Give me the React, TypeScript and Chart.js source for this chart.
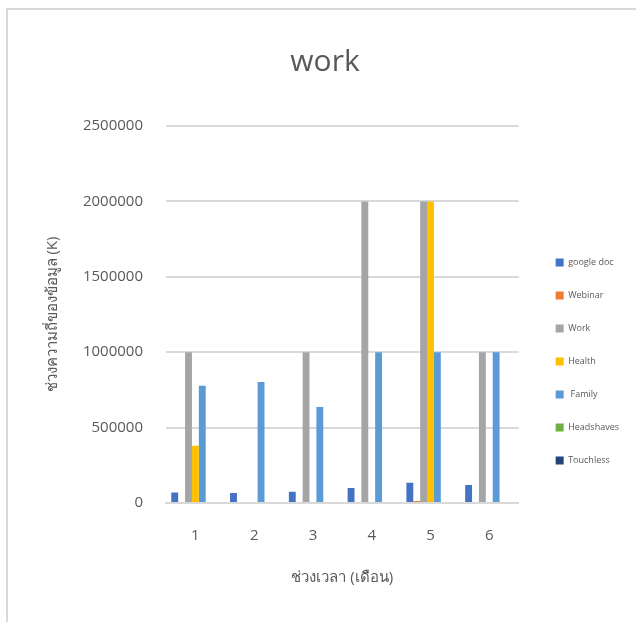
import React, { useEffect, useRef } from "react";
import { Chart, registerables } from "chart.js";

Chart.register(...registerables);

const categories = ["1", "2", "3", "4", "5", "6"];
const googleDoc = [70000, 66000, 75000, 100000, 134000, 120000];
const webinar = [0, 0, 0, 6000, 13000, 0];
const work = [1000000, 0, 1000000, 2000000, 2000000, 1000000];
const health = [380000, 0, 0, 0, 2000000, 0];
const family = [778000, 802000, 637000, 1000000, 1000000, 1000000];
const headshaves = [0, 0, 0, 0, 0, 0];
const touchless = [0, 0, 0, 0, 0, 0];

const seriesNames = ["google doc", "Webinar", "Work", "Health", " Family", "Headshaves", "Touchless"];
const seriesColors = ["#4472C4", "#ED7D31", "#A5A5A5", "#FFC000", "#5B9BD5", "#70AD47", "#264478"];
const seriesData = [googleDoc, webinar, work, health, family, headshaves, touchless];

const chartTitle = "work";
const yTitle = "ช่วงความถี่ของข้อมูล (K)";
const xTitle = "ช่วงเวลา (เดือน)";

const FONT = "'Open Sans', 'Noto Sans', sans-serif";

const LEGEND_DX = 13;
const LEGEND_DY = 61;
const TITLE_DX = 9;

const boxShift = {
  id: "boxShift",
  afterLayout(chart: any) {
    const lg = chart.legend;
    if (lg) {
      lg.left += LEGEND_DX;
      lg.right += LEGEND_DX;
      lg.top += LEGEND_DY;
      lg.bottom += LEGEND_DY;
    }
    const t = chart.titleBlock;
    if (t) {
      t.left += TITLE_DX;
      t.right += TITLE_DX;
    }
  },
};

export default function App() {
  const ref = useRef<HTMLCanvasElement | null>(null);
  useEffect(() => {
    document.body.style.margin = "0";
    const ctx = ref.current!;
    const chart = new Chart(ctx, {
      type: "bar",
      data: {
        labels: categories,
        datasets: seriesData.map((d, i) => ({
          label: seriesNames[i],
          data: d,
          backgroundColor: seriesColors[i],
          borderWidth: 0,
          categoryPercentage: 0.82,
          barPercentage: 1,
        })),
      },
      plugins: [boxShift],
      options: {
        responsive: false,
        animation: false,
        devicePixelRatio: 1,
        layout: { padding: { left: 8, right: 26, bottom: 31, top: 0 } },
        plugins: {
          title: {
            display: true,
            text: chartTitle,
            color: "#595959",
            font: { family: FONT, size: 30, weight: "normal" },
            padding: { top: 34, bottom: 46 },
          },
          legend: {
            position: "right",
            labels: {
              color: "#595959",
              font: { family: FONT, size: 9 },
              boxWidth: 8,
              boxHeight: 8,
              padding: 24,
              textAlign: "left",
            },
          },
          tooltip: { enabled: false },
        },
        scales: {
          x: {
            grid: { display: false, drawTicks: false },
            border: { color: "#D9D9D9", width: 2 },
            ticks: { color: "#595959", font: { family: FONT, size: 15 }, padding: 24 },
            title: {
              display: true,
              text: xTitle,
              color: "#595959",
              font: { family: FONT, size: 15 },
              padding: { top: 0, bottom: 4 },
            },
          },
          y: {
            min: 0,
            max: 2500000,
            ticks: {
              stepSize: 500000,
              color: "#595959",
              font: { family: FONT, size: 15 },
              padding: 23,
              callback: (v: any) => String(v),
            },
            grid: { color: "#D9D9D9", lineWidth: 2, drawTicks: false },
            border: { display: false },
            title: {
              display: true,
              text: yTitle,
              color: "#595959",
              font: { family: FONT, size: 15 },
              padding: { top: 28, bottom: 9 },
            },
          },
        },
      },
    });
    return () => chart.destroy();
  }, []);
  return (
    <div style={{ position: "fixed", left: 0, top: 0, width: 636, height: 622, overflow: "hidden", background: "#fff" }}>
      <div
        style={{
          position: "absolute",
          left: 6,
          top: 8,
          width: 636,
          height: 620,
          borderLeft: "2px solid #D9D9D9",
          borderTop: "2px solid #D9D9D9",
        }}
      >
        <canvas ref={ref} width={634} height={612} style={{ display: "block" }} />
      </div>
    </div>
  );
}
